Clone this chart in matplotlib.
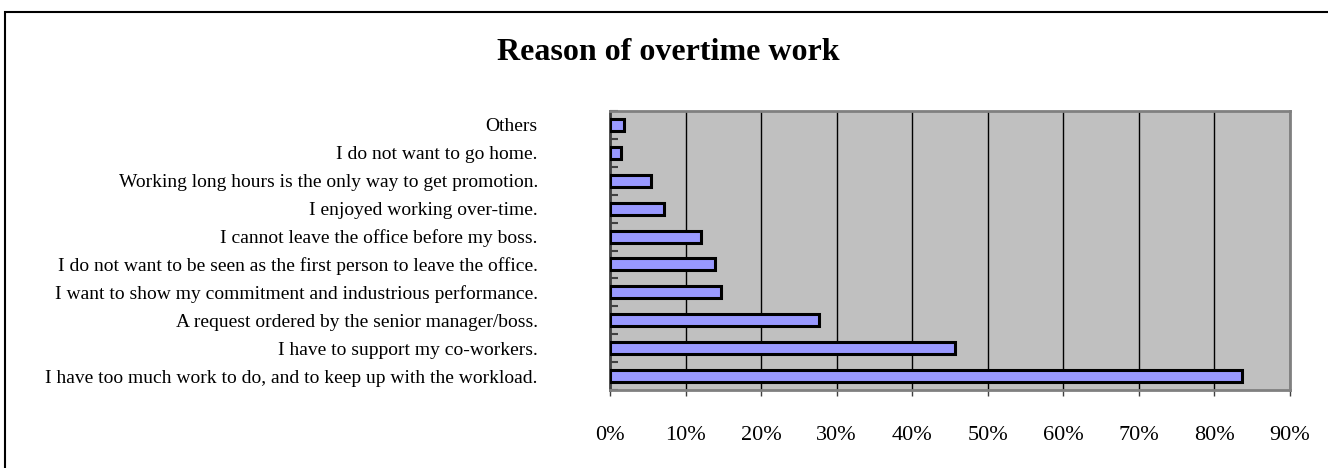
import matplotlib
matplotlib.use("Agg")
import matplotlib.pyplot as plt
from matplotlib.patches import Rectangle
from matplotlib.ticker import FixedLocator, PercentFormatter

categories = [
    "I have too much work to do, and to keep up with the workload.",
    "I have to support my co-workers.",
    "A request ordered by the senior manager/boss.",
    "I want to show my commitment and industrious performance.",
    "I do not want to be seen as the first person to leave the office.",
    "I cannot leave the office before my boss.",
    "I enjoyed working over-time.",
    "Working long hours is the only way to get promotion.",
    "I do not want to go home.",
    "Others",
]
values = [83.6, 45.6, 27.6, 14.7, 13.9, 12.0, 7.2, 5.4, 1.4, 1.9]
x_ticks = [0, 10, 20, 30, 40, 50, 60, 70, 80, 90]
title = "Reason of overtime work"

W, H = 1328, 468
fig = plt.figure(figsize=(W / 100, H / 100), dpi=100)
fig.patch.set_facecolor("white")

ax = fig.add_axes([610 / W, 1 - 390 / H, 680 / W, 279 / H])
ax.set_facecolor("#C0C0C0")

ypos = list(range(len(categories)))
ax.barh(ypos, values, height=0.43, color="#9999FF", edgecolor="black",
        linewidth=2.2, zorder=3)

ax.set_xlim(0, 90)
ax.set_ylim(-0.5, len(categories) - 0.5)
ax.set_xticks(x_ticks)
ax.xaxis.set_major_formatter(PercentFormatter(decimals=0))
ax.grid(axis="x", color="black", linewidth=1, zorder=1)
ax.set_axisbelow(True)

ax.set_yticks(ypos)
ax.set_yticklabels(categories, fontsize=14, family="Liberation Serif")
ax.yaxis.set_minor_locator(FixedLocator([i - 0.5 for i in range(len(categories) + 1)]))
ax.tick_params(axis="y", which="major", length=0, pad=52)
ax.tick_params(axis="y", which="minor", length=6, direction="in", color="#404040", width=1.5)
ax.tick_params(axis="x", which="major", length=4, direction="out", color="#404040",
               width=1, pad=22, labelsize=16)
for lab in ax.get_xticklabels():
    lab.set_family("Liberation Serif")

ax.spines["left"].set_color("#404040")
ax.spines["left"].set_linewidth(2)
for s in ("top", "right", "bottom"):
    ax.spines[s].set_color("#808080")
    ax.spines[s].set_linewidth(2)

fig.text(668 / W, 1 - 52 / H, title, ha="center", va="center",
         fontsize=23, fontweight="bold", family="Liberation Serif")

fig.patches.append(Rectangle((5 / W, -0.2), 1.2, 1.2 - 12 / H,
                             transform=fig.transFigure, fill=False,
                             edgecolor="black", linewidth=1.5))

fig.savefig("out.png", dpi=100)
